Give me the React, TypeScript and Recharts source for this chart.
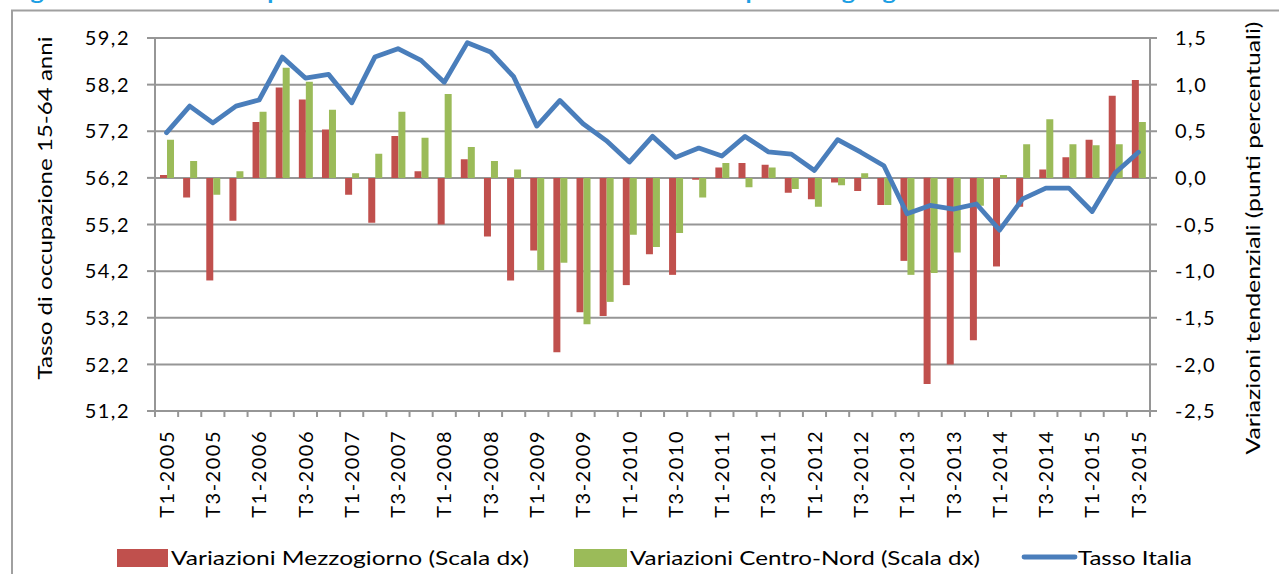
import React from 'react';
import { ComposedChart, Bar, Line, XAxis, YAxis, CartesianGrid } from 'recharts';

const quarters = [
  'T1-2005', 'T2-2005', 'T3-2005', 'T4-2005',
  'T1-2006', 'T2-2006', 'T3-2006', 'T4-2006',
  'T1-2007', 'T2-2007', 'T3-2007', 'T4-2007',
  'T1-2008', 'T2-2008', 'T3-2008', 'T4-2008',
  'T1-2009', 'T2-2009', 'T3-2009', 'T4-2009',
  'T1-2010', 'T2-2010', 'T3-2010', 'T4-2010',
  'T1-2011', 'T2-2011', 'T3-2011', 'T4-2011',
  'T1-2012', 'T2-2012', 'T3-2012', 'T4-2012',
  'T1-2013', 'T2-2013', 'T3-2013', 'T4-2013',
  'T1-2014', 'T2-2014', 'T3-2014', 'T4-2014',
  'T1-2015', 'T2-2015', 'T3-2015',
];

const tassoItalia = [
  57.17, 57.74, 57.38, 57.74, 57.87, 58.79, 58.34, 58.42, 57.81, 58.79,
  58.97, 58.72, 58.25, 59.1, 58.9, 58.37, 57.31, 57.86, 57.36, 57.0,
  56.54, 57.09, 56.64, 56.84, 56.67, 57.09, 56.76, 56.71, 56.36, 57.02,
  56.75, 56.46, 55.43, 55.61, 55.53, 55.64, 55.08, 55.75, 55.98, 55.98,
  55.48, 56.31, 56.75,
];

const varMezzogiorno = [
  0.03, -0.21, -1.1, -0.46, 0.6, 0.97, 0.84, 0.52, -0.18, -0.48,
  0.45, 0.07, -0.5, 0.2, -0.63, -1.1, -0.78, -1.87, -1.44, -1.48,
  -1.15, -0.82, -1.04, -0.02, 0.11, 0.16, 0.14, -0.16, -0.23, -0.05,
  -0.14, -0.29, -0.89, -2.21, -2.0, -1.74, -0.95, -0.31, 0.09, 0.22,
  0.41, 0.88, 1.05,
];

const varCentroNord = [
  0.41, 0.18, -0.18, 0.07, 0.71, 1.18, 1.03, 0.73, 0.05, 0.26,
  0.71, 0.43, 0.9, 0.33, 0.18, 0.09, -0.99, -0.91, -1.57, -1.33,
  -0.61, -0.74, -0.59, -0.21, 0.16, -0.1, 0.11, -0.12, -0.31, -0.08,
  0.05, -0.29, -1.04, -1.02, -0.8, -0.3, 0.03, 0.36, 0.63, 0.36,
  0.35, 0.36, 0.6,
];

const leftTicks = [51.2, 52.2, 53.2, 54.2, 55.2, 56.2, 57.2, 58.2, 59.2];
const rightTicks = [-2.5, -2.0, -1.5, -1.0, -0.5, 0.0, 0.5, 1.0, 1.5];

const legendLabels = [
  'Variazioni Mezzogiorno (Scala dx)',
  'Variazioni Centro-Nord (Scala dx)',
  'Tasso Italia',
];
const leftTitle = 'Tasso di occupazione 15-64 anni';
const rightTitle = 'Variazioni tendenziali (punti percentuali)';
const topTitle = 'Figura 3 - Tasso di occupazione 15-64 anni e variazioni tendenziali per area geografica';

const data = quarters.map((q, i) => ({
  q,
  tasso: tassoItalia[i],
  sud: varMezzogiorno[i],
  nord: varCentroNord[i],
}));

const W = 1279;
const H = 574;
const PLOT_LEFT = 155;
const PLOT_RIGHT = 1150;
const BAND = (PLOT_RIGHT - PLOT_LEFT) / quarters.length;
const FONT = "Lato, 'Open Sans', sans-serif";
const GRID = '#969696';
const RED = '#C0504D';
const GREEN = '#9BBB59';
const BLUE = '#4A7EBB';

const fmt = (v: number) => {
  const s = v.toFixed(1).replace('.', ',');
  return s === '-0,0' ? '0,0' : s;
};

const LeftTick = (props: any) => {
  const { x, y, payload } = props;
  return (
    <text x={x} y={y} dy="0.36em" textAnchor="end" fontFamily={FONT} fontSize={20} letterSpacing={1.5} fill="#000">
      {fmt(payload.value)}
    </text>
  );
};

const RightTick = (props: any) => {
  const { x, y, payload } = props;
  return (
    <text x={x} y={y} dy="0.36em" textAnchor="start" fontFamily={FONT} fontSize={20} letterSpacing={1.5} fill="#000">
      {fmt(payload.value)}
    </text>
  );
};

const XTick = (props: any) => {
  const { x, y, payload, index } = props;
  const half = BAND / 2;
  const ty = y + 19;
  return (
    <g>
      <line x1={x - half} x2={x - half} y1={y} y2={y + 6} stroke={GRID} strokeWidth={2} />
      {index === quarters.length - 1 && (
        <line x1={x + half} x2={x + half} y1={y} y2={y + 6} stroke={GRID} strokeWidth={2} />
      )}
      {index % 2 === 0 && (
        <text
          x={x}
          y={ty}
          dy="0.36em"
          textAnchor="end"
          transform={`rotate(-90, ${x}, ${ty})`}
          fontFamily={FONT}
          fontSize={20}
          letterSpacing={1.5}
          fill="#000"
        >
          {payload.value}
        </text>
      )}
    </g>
  );
};

export default function App() {
  return (
    <div style={{ position: 'absolute', left: 0, top: 0, width: W, height: H, background: '#fff', overflow: 'hidden' }}>
      <ComposedChart
        width={W}
        height={H}
        data={data}
        margin={{ top: 38, right: 0, bottom: 0, left: 0 }}
        barGap={0}
      >
        <CartesianGrid yAxisId="left" horizontal vertical={false} stroke={GRID} strokeWidth={2} />
        <XAxis
          dataKey="q"
          height={163}
          interval={0}
          tickLine={false}
          tickSize={0}
          tickMargin={0}
          axisLine={{ stroke: GRID, strokeWidth: 2 }}
          tick={<XTick />}
        />
        <YAxis
          yAxisId="left"
          orientation="left"
          width={155}
          domain={[51.2, 59.2]}
          ticks={leftTicks}
          allowDataOverflow
          tickSize={8}
          tickMargin={17}
          tickLine={{ stroke: GRID, strokeWidth: 2 }}
          axisLine={{ stroke: GRID, strokeWidth: 2 }}
          tick={<LeftTick />}
        />
        <YAxis
          yAxisId="right"
          orientation="right"
          width={129}
          domain={[-2.5, 1.5]}
          ticks={rightTicks}
          allowDataOverflow
          tickSize={7}
          tickMargin={18}
          tickLine={{ stroke: GRID, strokeWidth: 2 }}
          axisLine={{ stroke: GRID, strokeWidth: 2 }}
          tick={<RightTick />}
        />
        <Bar yAxisId="right" dataKey="sud" fill={RED} barSize={7} isAnimationActive={false} />
        <Bar yAxisId="right" dataKey="nord" fill={GREEN} barSize={7} isAnimationActive={false} />
        <Line
          yAxisId="left"
          dataKey="tasso"
          stroke={BLUE}
          strokeWidth={4.8}
          dot={false}
          activeDot={false}
          strokeLinejoin="round"
          strokeLinecap="round"
          isAnimationActive={false}
        />
      </ComposedChart>
      <svg
        width={W}
        height={H}
        style={{ position: 'absolute', left: 0, top: 0, pointerEvents: 'none' }}
      >
        <text x={10} y={-1} fontFamily={FONT} fontWeight="bold" fontSize={20} fill="#1E9FE3" textLength={947} lengthAdjust="spacingAndGlyphs">
          {topTitle}
        </text>
        <path d={`M12,${H + 5} L12,10.5 L${W + 5},10.5`} fill="none" stroke="#A0A0A0" strokeWidth={2} />
        <text
          x={52}
          y={208}
          textAnchor="middle"
          transform="rotate(-90, 52, 208)"
          fontFamily={FONT}
          fontSize={20}
          fill="#000"
          textLength={343}
          lengthAdjust="spacingAndGlyphs"
        >
          {leftTitle}
        </text>
        <text
          x={1260}
          y={238}
          textAnchor="middle"
          transform="rotate(-90, 1260, 238)"
          fontFamily={FONT}
          fontSize={20}
          fill="#000"
          textLength={433}
          lengthAdjust="spacingAndGlyphs"
        >
          {rightTitle}
        </text>
        <rect x={117} y={549} width={51} height={18} fill={RED} />
        <text x={171} y={565} fontFamily={FONT} fontSize={20} fill="#000" textLength={358} lengthAdjust="spacingAndGlyphs">
          {legendLabels[0]}
        </text>
        <rect x={574} y={549} width={53} height={18} fill={GREEN} />
        <text x={630} y={565} fontFamily={FONT} fontSize={20} fill="#000" textLength={350} lengthAdjust="spacingAndGlyphs">
          {legendLabels[1]}
        </text>
        <line x1={1024} x2={1075} y1={557} y2={557} stroke={BLUE} strokeWidth={4.8} strokeLinecap="round" />
        <text x={1078} y={565} fontFamily={FONT} fontSize={20} fill="#000" textLength={114} lengthAdjust="spacingAndGlyphs">
          {legendLabels[2]}
        </text>
      </svg>
    </div>
  );
}
